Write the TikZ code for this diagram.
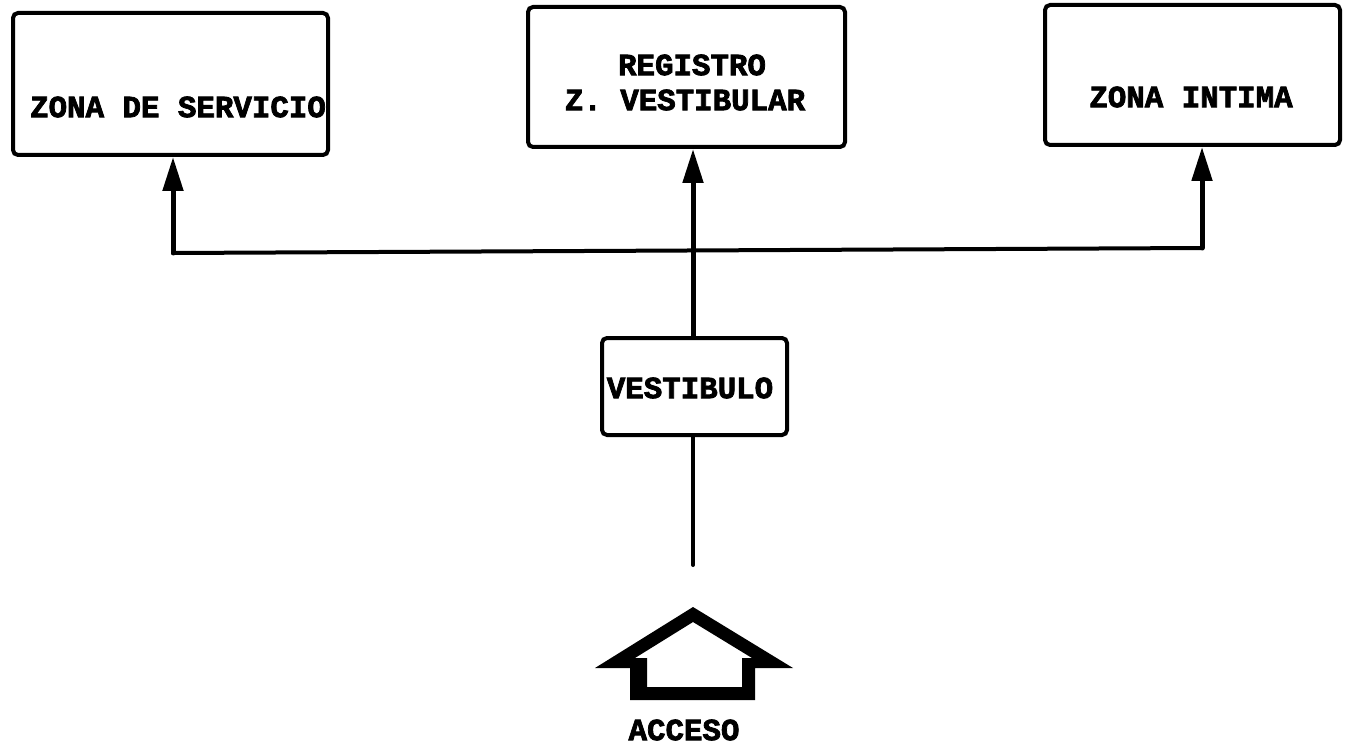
\documentclass[tikz,border=0pt]{standalone}
\usepackage{fontspec}
\newfontfamily\typ[FakeBold=2.5]{Liberation Mono Bold}
\usetikzlibrary{arrows.meta}
\begin{document}
\begin{tikzpicture}[x=0.5pt,y=-0.5pt,
  zonebox/.style={draw=black, line width=2pt, rounded corners=2.5pt, rectangle, inner sep=0pt},
  lbl/.style={font=\typ\fontsize{15.4pt}{18pt}\selectfont, inner sep=0pt, anchor=center},
  conn/.style={line width=2pt, line cap=round},
  arr/.style={line width=2.5pt, line cap=round, -{Triangle[length=17pt,width=10pt]}}]
\useasboundingbox[fill=white] (0,0) rectangle (1347,748);
% boxes
\node[zonebox, minimum width=157.5pt, minimum height=71pt] (servicio) at (170.5,84) {};
\node[zonebox, minimum width=158.5pt, minimum height=70pt] (registro) at (686.5,77) {};
\node[zonebox, minimum width=147.5pt, minimum height=70pt] (intima) at (1192.5,75) {};
\node[zonebox, minimum width=92.5pt, minimum height=48.5pt] (vest) at (694.5,386.5) {};
% labels
\node[lbl] (tservicio) at (178,107) {ZONA DE SERVICIO};
\node[lbl] (treg1) at (692,65) {REGISTRO};
\node[lbl] (treg2) at (685,100) {Z. VESTIBULAR};
\node[lbl] (tintima) at (1191,97) {ZONA INTIMA};
\node[lbl] (tvest) at (690,388) {VESTIBULO};
\node[lbl] (tacceso) at (684,730) {ACCESO};
% connectors
\coordinate (L) at (173,253);
\coordinate (R) at (1202,248);
\coordinate (acc) at (693,565);
\draw[arr] (vest.north -| acc) -- (registro.south -| acc);
\draw[conn] (acc) -- (vest.south -| acc);
\draw[conn] (L) -- (R);
\draw[arr] (L) -- (servicio.south -| L);
\draw[arr] (R) -- (intima.south -| R);
% access arrow symbol
\fill[black, even odd rule]
  (693,607) -- (793,668) -- (755,668) -- (755,700) -- (630,700) -- (630,668) -- (595,668) -- cycle
  (693,622) -- (752,658) -- (742,658) -- (742,687) -- (647,687) -- (647,658) -- (635,658) -- cycle;
\end{tikzpicture}
\end{document}
